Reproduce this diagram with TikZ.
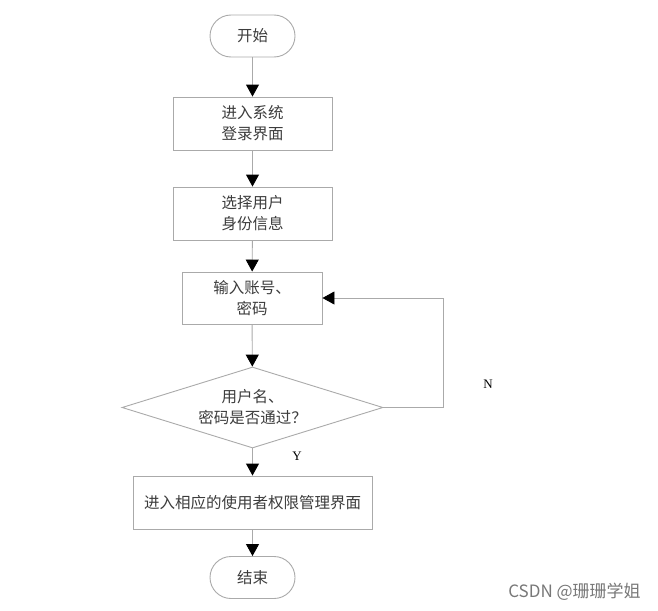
\documentclass[tikz,border=0pt]{standalone}
\usepackage{fontspec}
\setmainfont{Liberation Serif}
\newfontfamily\cjk{Noto Sans CJK SC}
\usetikzlibrary{arrows.meta, shapes.geometric}

\definecolor{linegray}{RGB}{170,170,170}
\definecolor{textgray}{RGB}{60,60,60}
\definecolor{markgray}{RGB}{120,120,120}

\tikzset{
  flowbox/.style={draw=linegray, line width=0.9pt, fill=white, text=textgray, align=center,
    font=\cjk\fontsize{15.5}{21}\selectfont, inner sep=0pt},
  termbox/.style={flowbox, rounded corners=21pt, minimum width=85pt, minimum height=42pt},
  stepbox/.style={flowbox, minimum width=159pt, minimum height=53pt},
  checkbox/.style={flowbox, diamond, aspect=3.2, minimum width=261pt, minimum height=81pt},
  flowline/.style={draw=linegray, line width=0.9pt, -{Triangle[width=13pt,length=12pt,color=black]}},
  yesno/.style={text=black, font=\fontsize{13}{15}\selectfont}
}

\begin{document}
\begin{tikzpicture}[x=1pt, y=-1pt]
\useasboundingbox[fill=white] (0,0) rectangle (658,610);

\node[termbox] (start) at (252.5,36) {开始};
\node[stepbox] (login) at (252.5,123.5) {进入系统\\登录界面};
\node[stepbox] (role) at (252.5,213.5) {选择用户\\身份信息};
\node[stepbox, minimum width=140pt, minimum height=52pt] (input) at (252,298) {输入账号、\\密码};
\node[checkbox] (check) at (252.5,407.5) {用户名、\\密码是否通过？};
\node[stepbox, minimum width=239pt] (enter) at (252.5,502.5) {进入相应的使用者权限管理界面};
\node[termbox] (stop) at (252.5,577.5) {结束};
\coordinate (loop) at (443,0);

\draw[flowline] (start) -- (login);
\draw[flowline] (login) -- (role);
\draw[flowline] (role) -- (input);
\draw[flowline] (input) -- (check);
\draw[flowline] (check) -- (enter);
\draw[flowline] (enter) -- (stop);
\draw[flowline] (check.east) -- (check.east -| loop) |- (input.east);

\node[yesno] (no) at (488,384) {N};
\node[yesno] (yes) at (297,456) {Y};

\node[text=markgray, font=\cjk\fontsize{17}{20}\selectfont] (mark) at (574.5,592) {CSDN @珊珊学姐};
\end{tikzpicture}
\end{document}
